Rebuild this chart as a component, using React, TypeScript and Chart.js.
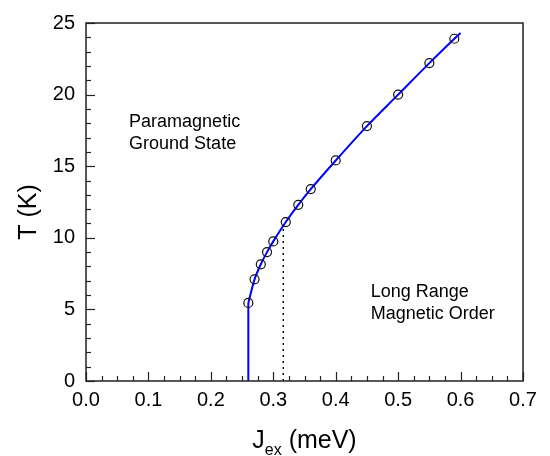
import React, { useEffect, useRef } from "react";
import { Chart, registerables } from "chart.js";

Chart.register(...registerables);

// Measured phase-boundary points (circles)
const pointJ = [0.26, 0.27, 0.28, 0.29, 0.30, 0.32, 0.34, 0.36, 0.40, 0.45, 0.50, 0.55, 0.59];
const pointT = [5.45, 7.1, 8.15, 9.0, 9.75, 11.1, 12.3, 13.4, 15.4, 17.8, 20.0, 22.2, 23.9];

// Guide curve (blue): vertical part and curved part
const verticalJ = [0.26, 0.26];
const verticalT = [0, 5.45];
const curveJ = [0.26, 0.27, 0.28, 0.29, 0.30, 0.32, 0.34, 0.36, 0.40, 0.45, 0.50, 0.55, 0.59, 0.60];
const curveT = [5.45, 7.1, 8.15, 9.0, 9.75, 11.1, 12.3, 13.4, 15.4, 17.8, 20.0, 22.2, 23.9, 24.3];

// Dotted marker line
const markerJ = [0.316, 0.316];
const markerT = [0, 10.85];

// Axes
const xMin = 0, xMax = 0.7, xStep = 0.1, xMinorStep = 0.025;
const yMin = 0, yMax = 25, yStep = 5, yMinorStep = 1;
const xTickLabels = ["0.0", "0.1", "0.2", "0.3", "0.4", "0.5", "0.6", "0.7"];

// Region labels
const regionLines = [["Paramagnetic", "Ground State"], ["Long Range", "Magnetic Order"]];
const regionJ = [0.069, 0.456];
const regionT = [17.76, 5.9];

const FONT = "'Liberation Sans', Arial, Helvetica, sans-serif";

const toXY = (xs: number[], ys: number[]) => xs.map((x, i) => ({ x, y: ys[i] }));

const decorPlugin = {
  id: "decor",
  afterDraw(chart: any) {
    const { ctx, chartArea } = chart;
    const xs = chart.scales.x;
    const ys = chart.scales.y;
    const { left, right, top, bottom } = chartArea;
    ctx.save();
    // frame
    ctx.strokeStyle = "#222";
    ctx.lineWidth = 1.5;
    ctx.strokeRect(left, top, right - left, bottom - top);
    // x ticks (inward)
    ctx.lineWidth = 1.2;
    const nx = Math.round((xMax - xMin) / xMinorStep);
    for (let i = 0; i <= nx; i++) {
      const v = xMin + i * xMinorStep;
      const px = Math.round(xs.getPixelForValue(v)) + 0.5;
      const len = i % Math.round(xStep / xMinorStep) === 0 ? 9 : 5;
      ctx.beginPath();
      ctx.moveTo(px, bottom);
      ctx.lineTo(px, bottom - len);
      ctx.stroke();
    }
    const ny = Math.round((yMax - yMin) / yMinorStep);
    for (let i = 0; i <= ny; i++) {
      const v = yMin + i * yMinorStep;
      const py = Math.round(ys.getPixelForValue(v)) + 0.5;
      const len = i % Math.round(yStep / yMinorStep) === 0 ? 9 : 5;
      ctx.beginPath();
      ctx.moveTo(left, py);
      ctx.lineTo(left + len, py);
      ctx.stroke();
    }
    // region labels
    ctx.fillStyle = "#000";
    ctx.font = `18px ${FONT}`;
    ctx.textAlign = "left";
    ctx.textBaseline = "alphabetic";
    regionLines.forEach((lines, k) => {
      const px = xs.getPixelForValue(regionJ[k]);
      const py = ys.getPixelForValue(regionT[k]);
      lines.forEach((s, j) => ctx.fillText(s, px, py + j * 22.5));
    });
    // x title: J_ex (meV)
    const big = `25px ${FONT}`;
    const small = `16px ${FONT}`;
    ctx.font = big;
    const wJ = ctx.measureText("J").width;
    const wRest = ctx.measureText(" (meV)").width;
    ctx.font = small;
    const wSub = ctx.measureText("ex").width;
    const total = wJ + wSub + wRest;
    let sx = (left + right) / 2 - total / 2;
    const base = 448;
    ctx.font = big;
    ctx.fillText("J", sx, base);
    sx += wJ;
    ctx.font = small;
    ctx.fillText("ex", sx, base + 7);
    sx += wSub;
    ctx.font = big;
    ctx.fillText(" (meV)", sx, base);
    // y title
    ctx.save();
    ctx.translate(36, 212);
    ctx.rotate(-Math.PI / 2);
    ctx.textAlign = "center";
    ctx.font = big;
    ctx.fillText("T (K)", 0, 0);
    ctx.restore();
    ctx.restore();
  },
};

export default function App() {
  const ref = useRef<HTMLCanvasElement | null>(null);
  useEffect(() => {
    if (!ref.current) return;
    Chart.defaults.font.family = FONT;
    const chart = new Chart(ref.current, {
      type: "scatter",
      data: {
        datasets: [
          {
            data: toXY(pointJ, pointT),
            showLine: false,
            pointRadius: 4.5,
            pointBorderWidth: 1.2,
            pointBorderColor: "#111",
            pointBackgroundColor: "rgba(0,0,0,0)",
            pointHoverRadius: 4.5,
          },
          {
            data: toXY(curveJ, curveT),
            showLine: true,
            borderColor: "#0000ff",
            borderWidth: 2,
            tension: 0.3,
            pointRadius: 0,
            pointHoverRadius: 0,
          },
          {
            data: toXY(verticalJ, verticalT),
            showLine: true,
            borderColor: "#0000ff",
            borderWidth: 2,
            pointRadius: 0,
            pointHoverRadius: 0,
          },
          {
            data: toXY(markerJ, markerT),
            showLine: true,
            borderColor: "#000",
            borderWidth: 1.5,
            borderDash: [2, 4],
            pointRadius: 0,
            pointHoverRadius: 0,
          },
        ],
      },
      options: {
        animation: false,
        responsive: false,
        maintainAspectRatio: false,
        events: [],
        layout: { padding: { left: 0, top: 13, right: 27, bottom: 0 } },
        plugins: { legend: { display: false }, tooltip: { enabled: false } },
        scales: {
          x: {
            type: "linear",
            min: xMin,
            max: xMax,
            grid: { display: false, drawTicks: false },
            border: { display: false },
            ticks: {
              stepSize: xStep,
              padding: 7,
              color: "#000",
              font: { size: 20, family: FONT },
              maxRotation: 0,
              callback: (v: any) => {
                const i = Math.round((Number(v) - xMin) / xStep);
                return xTickLabels[i] ?? "";
              },
            },
            afterFit: (s: any) => {
              s.height = 75;
            },
          },
          y: {
            type: "linear",
            min: yMin,
            max: yMax,
            grid: { display: false, drawTicks: false },
            border: { display: false },
            ticks: {
              stepSize: yStep,
              padding: 11,
              color: "#000",
              font: { size: 20, family: FONT },
            },
            afterFit: (s: any) => {
              s.width = 86;
            },
          },
        },
      },
      plugins: [decorPlugin],
    });
    return () => chart.destroy();
  }, []);
  return (
    <div style={{ position: "absolute", left: 0, top: 0, width: 550, height: 456, background: "#fff" }}>
      <canvas ref={ref} width={550} height={456} style={{ width: 550, height: 456, display: "block" }} />
    </div>
  );
}
